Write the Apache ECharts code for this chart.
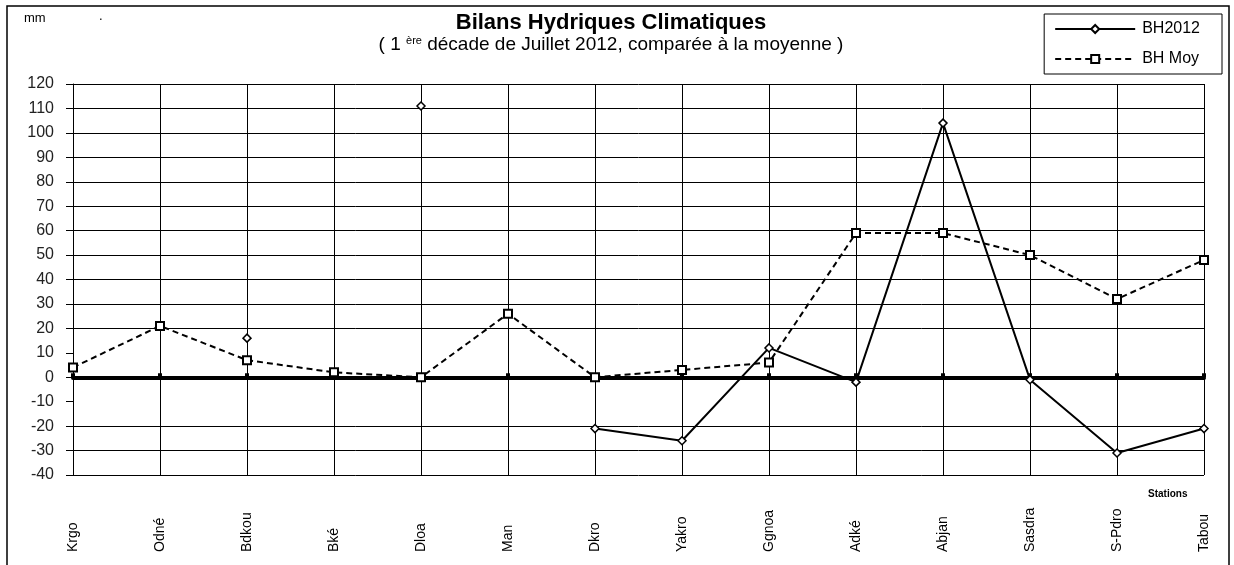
<!DOCTYPE html>
<html>
<head>
<meta charset="utf-8">
<script src="https://cdn.jsdelivr.net/npm/echarts@6/dist/echarts.min.js"></script>
<style>
  html, body { margin: 0; padding: 0; background: #fff; }
  #chart { width: 1234px; height: 565px; }
</style>
</head>
<body>
<div id="chart"></div>
<script>
    // stations (abbreviated) and water balance values in mm
    var stations = ['Krgo', 'Odné', 'Bdkou', 'Bké', 'Dloa', 'Man', 'Dkro', 'Yakro', 'Ggnoa', 'Adké', 'Abjan', 'Sasdra', 'S-Pdro', 'Tabou'];
    var bh2012 = [null, null, 16, null, 111, null, -21, -26, 12, -2, 104, -1, -31, -21];
    var bhMoy = [4, 21, 7, 2, 0, 26, 0, 3, 6, 59, 59, 50, 32, 48];
    var yMin = -40, yMax = 120, yStep = 10;
    var noGridAt = [-10, 0, 10];

    var font = 'Liberation Sans';

    // one colour per horizontal grid line, some left out like in the picture
    var gridColors = [];
    for (var v = yMin; v <= yMax; v += yStep) {
        gridColors.push(noGridAt.indexOf(v) >= 0 ? 'rgba(0,0,0,0)' : '#000');
    }

    var dom = echarts.init(document.getElementById('chart'));
    var option = {
        backgroundColor: '#fff',
        animation: false,
        textStyle: { fontFamily: font },
        title: {
            text: 'Bilans Hydriques Climatiques',
            subtext: '{n|( 1 }{sup|ère}{n| décade de Juillet 2012, comparée à la moyenne )}',
            left: 606,
            textAlign: 'center',
            top: 7,
            itemGap: 1,
            textStyle: { fontSize: 22, fontWeight: 'bold', color: '#000', fontFamily: font },
            subtextStyle: {
                color: '#000',
                rich: {
                    n: { fontSize: 19, color: '#000', fontFamily: font },
                    sup: { fontSize: 11, color: '#000', fontFamily: font, verticalAlign: 'top', padding: [0, 0, 9, 0] }
                }
            }
        },
        legend: {
            orient: 'vertical',
            right: 12,
            top: 14,
            padding: [7, 22, 7, 10],
            itemGap: 14,
            itemWidth: 80,
            itemHeight: 10,
            borderColor: '#000',
            borderWidth: 1,
            backgroundColor: '#fff',
            textStyle: { fontSize: 16, color: '#000', fontFamily: font, padding: [0, 0, 0, 2] },
            data: ['BH2012', 'BH Moy']
        },
        grid: { left: 73, right: 30, top: 84, bottom: 90 },
        xAxis: [
            {
                type: 'category',
                data: stations,
                boundaryGap: false,
                position: 'bottom',
                axisLine: { show: false, onZero: false },
                axisTick: { show: false },
                axisLabel: {
                    rotate: 90,
                    align: 'left',
                    margin: 77,
                    fontSize: 14,
                    color: '#000',
                    fontFamily: font
                },
                splitLine: { show: true, lineStyle: { color: '#000', width: 1 } }
            },
            {
                type: 'category',
                data: stations,
                boundaryGap: false,
                axisLine: { show: true, onZero: true, lineStyle: { color: '#000', width: 4 } },
                axisTick: { show: true, length: 4, lineStyle: { color: '#000', width: 4 } },
                axisLabel: { show: false },
                splitLine: { show: false }
            }
        ],
        yAxis: {
            type: 'value',
            min: yMin,
            max: yMax,
            interval: yStep,
            axisLine: { show: true, lineStyle: { color: '#000', width: 1 } },
            axisTick: { show: true, length: 7, lineStyle: { color: '#000' } },
            axisLabel: { fontSize: 16, color: '#222', margin: 19, fontFamily: font },
            splitLine: { show: true, lineStyle: { color: gridColors, width: 1 } }
        },
        graphic: [
            { type: 'rect', shape: { x: 7, y: 6, width: 1222, height: 580 }, style: { fill: 'none', stroke: '#000', lineWidth: 1.5 }, z: -1 },
            { type: 'text', left: 24, top: 12, style: { text: 'mm', fontSize: 13, fill: '#000', fontFamily: font } },
            { type: 'text', left: 99, top: 10, style: { text: '.', fontSize: 13, fill: '#000', fontFamily: font } },
            { type: 'text', left: 1148, top: 489, style: { text: 'Stations', fontSize: 10, fontWeight: 'bold', fill: '#000', fontFamily: 'Liberation Sans Narrow, ' + font } }
        ],
        series: [
            {
                name: 'BH Moy',
                type: 'line',
                xAxisIndex: 0,
                data: bhMoy,
                symbol: 'rect',
                symbolSize: 8,
                itemStyle: { color: '#fff', borderColor: '#000', borderWidth: 2 },
                lineStyle: { color: '#000', width: 2, type: [6, 4] },
                z: 3
            },
            {
                name: 'BH2012',
                type: 'line',
                xAxisIndex: 0,
                data: bh2012,
                connectNulls: false,
                symbol: 'diamond',
                symbolSize: 8,
                showSymbol: true,
                itemStyle: { color: '#fff', borderColor: '#000', borderWidth: 1.5 },
                lineStyle: { color: '#000', width: 2 },
                z: 4
            }
        ]
    };
    dom.setOption(option);
</script>
</body>
</html>
